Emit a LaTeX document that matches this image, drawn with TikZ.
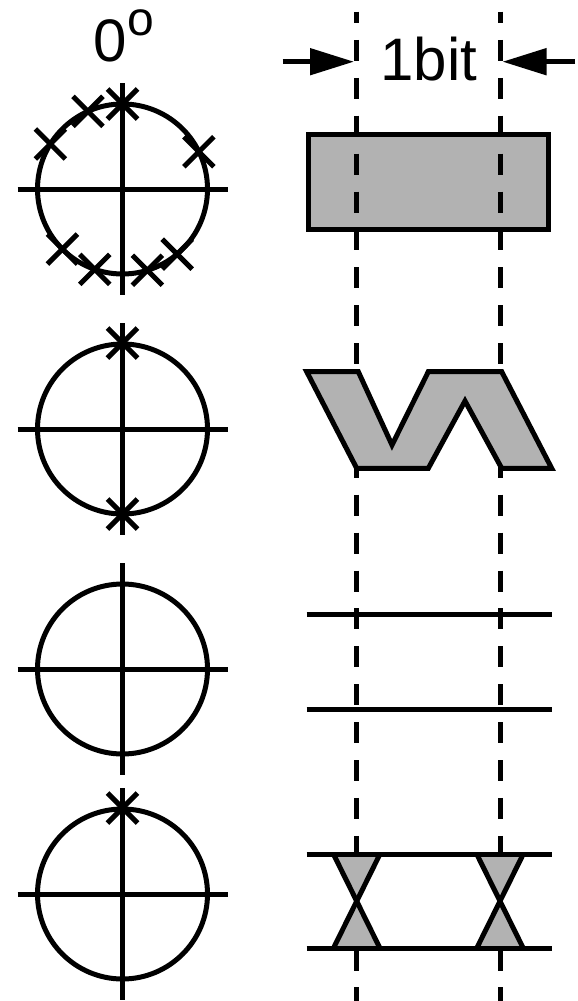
\documentclass[tikz,border=0pt]{standalone}
\usepackage{fontspec}
\setmainfont{Liberation Sans}
\usetikzlibrary{arrows.meta}
\begin{document}
\begin{tikzpicture}[x=1pt,y=-1pt,line width=5pt,
  graybox/.style={draw=black,fill=black!30,line width=5pt,line join=miter},
  dashline/.style={line width=5pt,dash pattern=on 21pt off 16.9pt,dash phase=9.5pt},
  plain/.style={line width=5pt},
  xcross/.pic={\draw[line width=5pt] (-15,-15)--(15,15) (-15,15)--(15,-15);},
  bigtxt/.style={inner sep=0pt,anchor=base,font=\fontsize{60}{60}\selectfont},
  suptxt/.style={inner sep=0pt,anchor=base,font=\fontsize{48}{48}\selectfont}]
\useasboundingbox (0,0) rectangle (578,1001);

% labels
\node[bigtxt] (deg) at (110.5,61.5) {0};
\node[suptxt] (degsup) at (141,35.5) {o};
\node[bigtxt] (bit) at (429,80) {1bit};

% width arrows
\coordinate (la) at (282.7,61.7);
\coordinate (lt) at (354,61.7);
\coordinate (ra) at (575,61.7);
\coordinate (rt) at (502.5,61.7);
\draw[plain,-{Triangle[length=44pt,width=26pt]}] (la) -- (lt);
\draw[plain,-{Triangle[length=44pt,width=26pt]}] (ra) -- (rt);

% constellation circles
\foreach \cy in {189,429,669,894}{
  \draw[plain] (122.5,\cy) circle[radius=85];
  \draw[plain] (17.5,\cy) -- (227.5,\cy);
  \draw[plain] (122.5,\cy-106) -- (122.5,\cy+106);
}
\foreach \a in {90,114,148,26,225,251,287,310}{
  \pic at ({122.5+85*cos(\a)},{189-85*sin(\a)}) {xcross};
}
\pic at (122.5,343) {xcross};
\pic at (122.5,514) {xcross};
\pic at (122.5,808) {xcross};

% panel 1: rectangle
\draw[graybox] (308.3,134) rectangle (548.3,229.3);

% bit boundaries
\coordinate (d1t) at (356.7,11.5);
\coordinate (d1b) at (356.7,1001);
\coordinate (d2t) at (500,11.5);
\coordinate (d2b) at (500,1001);
\draw[dashline] (d1t) -- (d1b);
\draw[dashline] (d2t) -- (d2b);

% panel 2: zig-zag band
\draw[graybox] (306.7,371.7) -- (358.3,371.7) -- (392,445) -- (428.3,371.7)
  -- (501.7,371.7) -- (551.7,468.3) -- (501.7,468.3) -- (465,401)
  -- (428.3,468.3) -- (356.7,468.3) -- cycle;

% panel 3: two lines
\draw[plain] (306.7,614) -- (551.7,614);
\draw[plain] (306.7,709.3) -- (551.7,709.3);

% panel 4: eye crossings
\foreach \cx in {356.7,500}{
  \fill[black!30] (\cx-23.3,854) -- (\cx+23.3,854) -- (\cx,901.2) -- cycle;
  \fill[black!30] (\cx-23.3,948.3) -- (\cx+23.3,948.3) -- (\cx,901.2) -- cycle;
  \draw[plain] (\cx-23.3,854) -- (\cx+23.3,948.3);
  \draw[plain] (\cx+23.3,854) -- (\cx-23.3,948.3);
}
\draw[plain] (306.7,854) -- (551.7,854);
\draw[plain] (306.7,948.3) -- (551.7,948.3);
\end{tikzpicture}
\end{document}
